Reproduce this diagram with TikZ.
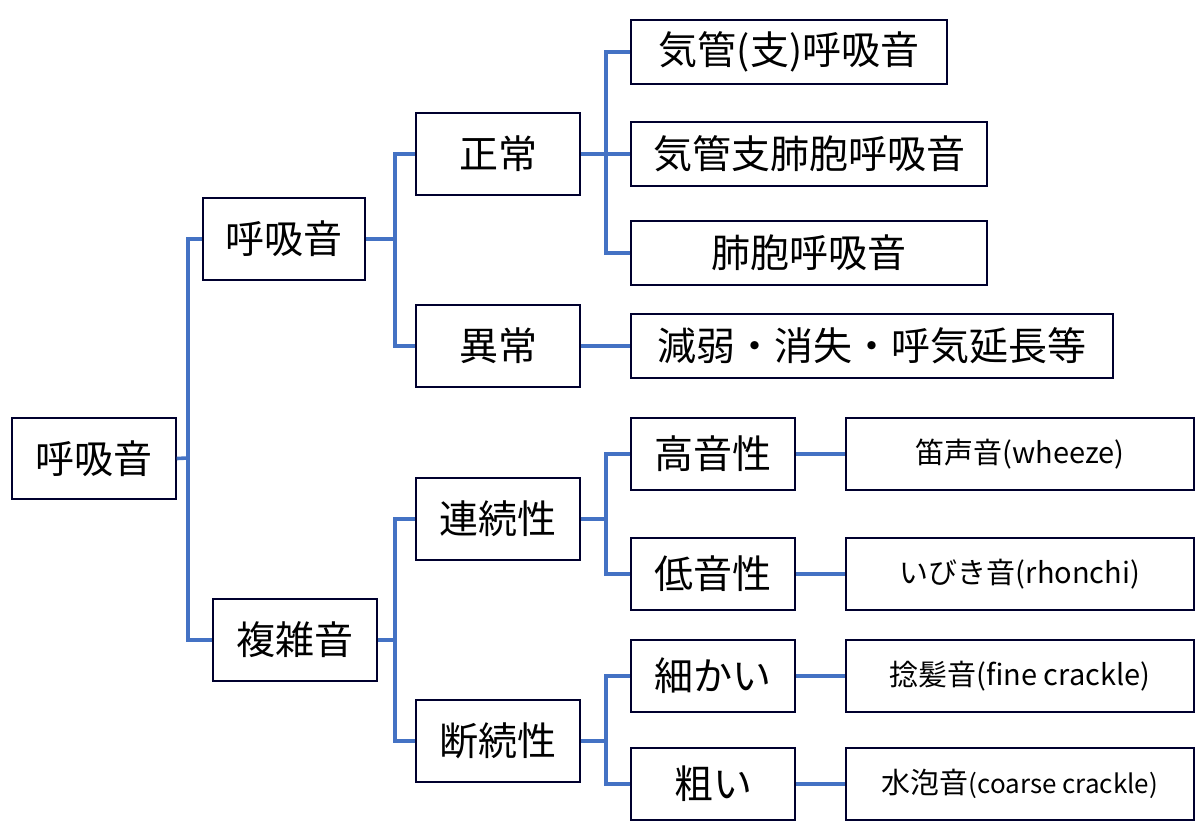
\documentclass[tikz,border=0pt]{standalone}
\usepackage{fontspec}
\setmainfont{Noto Sans CJK JP}
\begin{document}
\begin{tikzpicture}[x=0.5pt,y=-0.5pt,
  bx/.style={draw=black!70!blue!60!black,line width=0.7pt,inner sep=0pt,font=\fontsize{19.5}{21}\selectfont},
  sm/.style={font=\fontsize{14.5}{16}\selectfont},
  ln/.style={draw={rgb,255:red,68;green,114;blue,196},line width=1.8pt}]
\useasboundingbox (0,0) rectangle (1200,831);
\newcommand\mybox[7][]{\node[bx,#1,minimum width=(#5-#3)*0.5pt,minimum height=(#6-#4)*0.5pt] (#2) at ({(#3+#5)/2},{(#4+#6)/2}) {#7};}
\mybox{r}{12}{418}{176}{499}{呼吸音}
\mybox{h1}{203}{198}{365}{280}{呼吸音}
\mybox{f1}{213}{599}{377}{681}{複雑音}
\mybox{n1}{416}{113}{580}{195}{正常}
\mybox{a1}{416}{305}{580}{387}{異常}
\mybox{c1}{416}{478}{580}{560}{連続性}
\mybox{d1}{416}{700}{580}{782}{断続性}
\mybox{n2}{631}{20}{947}{84}{気管(支)呼吸音}
\mybox{n3}{631}{122}{987}{186}{気管支肺胞呼吸音}
\mybox{n4}{631}{221}{987}{285}{肺胞呼吸音}
\mybox{a2}{631}{314}{1113}{378}{減弱・消失・呼気延長等}
\mybox{c2}{631}{418}{795}{490}{高音性}
\mybox{c3}{631}{538}{795}{610}{低音性}
\mybox{d2}{631}{640}{795}{712}{細かい}
\mybox{d3}{631}{748}{795}{820}{粗い}
\mybox[sm]{e1}{846}{418}{1194}{490}{笛声音(wheeze)}
\mybox[sm]{e2}{846}{538}{1194}{610}{いびき音(rhonchi)}
\mybox[sm]{e3}{846}{640}{1194}{712}{捻髪音(fine crackle)}
\mybox[sm]{e4}{846}{748}{1194}{820}{水泡音\fontsize{13}{15}\selectfont(coarse crackle)}
\coordinate (j1) at (188,458);
\coordinate (j2) at (395,239);
\coordinate (j3) at (395,640);
\coordinate (j4) at (606,154);
\coordinate (j5) at (606,519);
\coordinate (j6) at (606,741);
\draw[ln] (r.east) -- (j1);
\draw[ln] (h1.west) -| (j1);
\draw[ln] (f1.west) -| (j1);
\draw[ln] (h1.east) -- (j2);
\draw[ln] (n1.west) -| (j2);
\draw[ln] (a1.west) -| (j2);
\draw[ln] (f1.east) -- (j3);
\draw[ln] (c1.west) -| (j3);
\draw[ln] (d1.west) -| (j3);
\draw[ln] (n1.east) -- (j4);
\draw[ln] (n2.west) -| (j4);
\draw[ln] (n3.west) -| (j4);
\draw[ln] (n4.west) -| (j4);
\draw[ln] (a1.east) -- (a1.east -| a2.west);
\draw[ln] (c1.east) -- (j5);
\draw[ln] (c2.west) -| (j5);
\draw[ln] (c3.west) -| (j5);
\draw[ln] (d1.east) -- (j6);
\draw[ln] (d2.west) -| (j6);
\draw[ln] (d3.west) -| (j6);
\draw[ln] (c2.east) -- (e1.west);
\draw[ln] (c3.east) -- (e2.west);
\draw[ln] (d2.east) -- (e3.west);
\draw[ln] (d3.east) -- (e4.west);
\end{tikzpicture}
\end{document}
